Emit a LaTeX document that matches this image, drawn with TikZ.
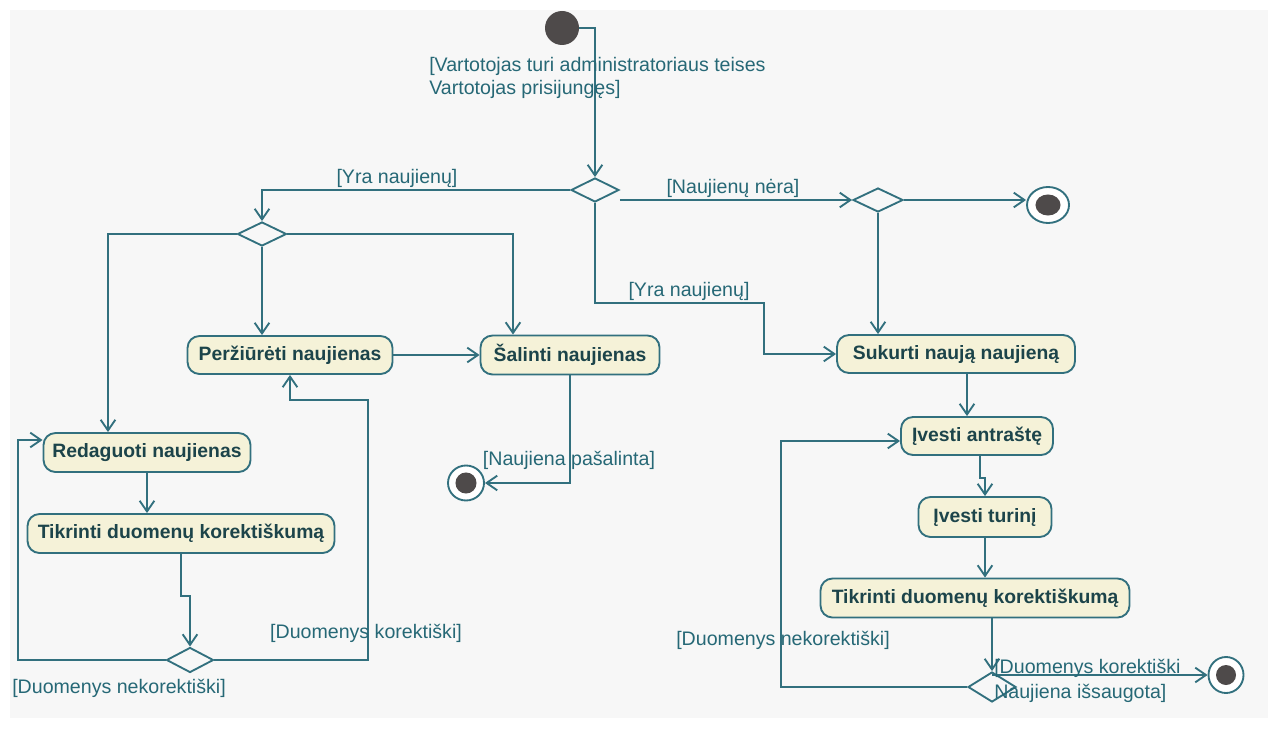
\documentclass[tikz,border=0pt]{standalone}
\usepackage{fontspec}
\setmainfont{Liberation Sans}
\usetikzlibrary{shapes.geometric,arrows.meta,calc}
\definecolor{bgc}{RGB}{247,247,247}
\definecolor{linec}{RGB}{50,112,126}
\definecolor{labc}{RGB}{38,104,118}
\definecolor{boxfill}{RGB}{245,242,216}
\definecolor{boxtxt}{RGB}{28,68,74}
\definecolor{darkc}{RGB}{78,74,74}
\begin{document}
\begin{tikzpicture}[x=0.75pt,y=-0.75pt,
  every node/.style={font=\fontsize{14.7pt}{17.5pt}\selectfont},
  act/.style={draw=linec, line width=1.4pt, fill=boxfill, rounded corners=9pt, text=boxtxt,
    font=\fontsize{14.5pt}{17pt}\selectfont\bfseries, inner sep=0pt},
  dec/.style={diamond, draw=linec, line width=1.4pt, fill=bgc, inner sep=0pt},
  flow/.style={draw=linec, line width=1.4pt, -{Straight Barb[length=8pt,width=11pt,line width=1.4pt]}},
  guard/.style={text=labc, inner sep=0pt, align=left},
  finalnode/.style n args={4}{ellipse, draw=linec, line width=1.4pt, fill=white, inner sep=0pt,
    minimum width=#1, minimum height=#2,
    path picture={\fill[darkc] (path picture bounding box.center) ellipse [x radius=#3, y radius=#4];}},
]
\useasboundingbox (0,0) rectangle (1276,731);
\fill[bgc] (10,10) rectangle (1268,718);

% nodes
\node[circle, fill=darkc, minimum size=25.5pt, inner sep=0pt] (start) at (562,28) {};
\node[dec, minimum width=36pt, minimum height=18pt] (d1) at (595,190) {};
\node[dec, minimum width=36.75pt, minimum height=18pt] (d2) at (262,234) {};
\node[dec, minimum width=35.25pt, minimum height=18.75pt] (d3) at (190,660) {};
\node[dec, minimum width=37.5pt, minimum height=18pt] (d4) at (878,200) {};
\node[dec, minimum width=36pt, minimum height=22.5pt] (d5) at (992,687) {};

\node[act, minimum width=153.75pt, minimum height=28.5pt] (perz) at (290,355) {Peržiūrėti naujienas};
\node[act, minimum width=134.25pt, minimum height=29.25pt] (sal) at (570,355) {Šalinti naujienas};
\node[act, minimum width=155.25pt, minimum height=29.25pt] (red) at (147,452.5) {Redaguoti naujienas};
\node[act, minimum width=230.25pt, minimum height=29.25pt] (tik1) at (181,533.5) {Tikrinti duomenų korektiškumą};
\node[act, minimum width=178.5pt, minimum height=28.5pt] (suk) at (956,354) {Sukurti naują naujieną};
\node[act, minimum width=114pt, minimum height=28.5pt] (ivant) at (977,436) {Įvesti antraštę};
\node[act, minimum width=99.75pt, minimum height=30pt] (ivtur) at (985,517) {Įvesti turinį};
\node[act, minimum width=231.75pt, minimum height=29.25pt] (tik2) at (975,598) {Tikrinti duomenų korektiškumą};

\node[finalnode={27pt}{26.25pt}{7.9pt}{7.9pt}] (fin1) at (466,483) {};
\node[finalnode={31.5pt}{27pt}{9.4pt}{7.9pt}] (fin2) at (1048,205) {};
\node[finalnode={26.25pt}{27pt}{7.5pt}{7.5pt}] (fin3) at (1226,675) {};

\coordinate (c1) at (18,440);
\coordinate (c2) at (368,400);
\coordinate (c3) at (764,303);
\coordinate (c5) at (781,441);

% connectors
\draw[flow] (start.east) -| (d1.north);
\draw[flow] (d1.west) -| (d2.north);
\draw[flow] (d2.west) -| ([xshift=-29.25pt]red.north);
\draw[flow] (d2.south) -- (d2.south |- perz.north);
\draw[flow] (d2.east) -| ([xshift=-42.75pt]sal.north);
\draw[flow] (perz.east) -- (sal.west);
\draw[flow] (sal.south) |- (fin1.east);
\draw[flow] (red.south) -- (red.south |- tik1.north);
\draw[flow] (tik1.south) -- ++(0,42) -| (d3.north);
\draw[flow] (d3.west) -| (c1) -- (c1 -| red.west);
\draw[flow] (d3.east) -| (c2) -| (perz.south);
\draw[flow] (d1.east |- d4.west) -- (d4.west);
\draw[flow] (d4.east) -- (d4.east -| fin2.west);
\draw[flow] (d4.south) -- (d4.south |- suk.north);
\draw[flow] (d1.south) |- (c3) |- (suk.west);
\draw[flow] ([xshift=8.25pt]suk.south) -- ([xshift=8.25pt]suk.south |- ivant.north);
\draw[flow] ([xshift=2.25pt]ivant.south) -- ++(0,22) -| (ivtur.north);
\draw[flow] (ivtur.south) -- (ivtur.south |- tik2.north);
\draw[flow] (d5.north |- tik2.south) -- (d5.north);
\draw[flow] (d5.west) -| (c5) -- (c5 -| ivant.west);
\draw[flow] (fin3.west -| d5.north) -- (fin3.west);

% guards
\node[guard, anchor=north west] (g1) at (429,57) {[Vartotojas turi administratoriaus teises\\Vartotojas prisijungęs]};
\node[guard] (g2) at (397,178) {[Yra naujienų]};
\node[guard] (g3) at (733,188) {[Naujienų nėra]};
\node[guard] (g4) at (689,291) {[Yra naujienų]};
\node[guard] (g5) at (569,460) {[Naujiena pašalinta]};
\node[guard] (g6) at (366,633) {[Duomenys korektiški]};
\node[guard, anchor=west] (g7) at (12,688) {[Duomenys nekorektiški]};
\node[guard, anchor=west] (g8) at (676,640) {[Duomenys nekorektiški]};
\node[guard, anchor=north west, font=\fontsize{14.7pt}{19pt}\selectfont] (g9) at (994,659) {[Duomenys korektiški\\Naujiena išsaugota]};
\end{tikzpicture}
\end{document}
